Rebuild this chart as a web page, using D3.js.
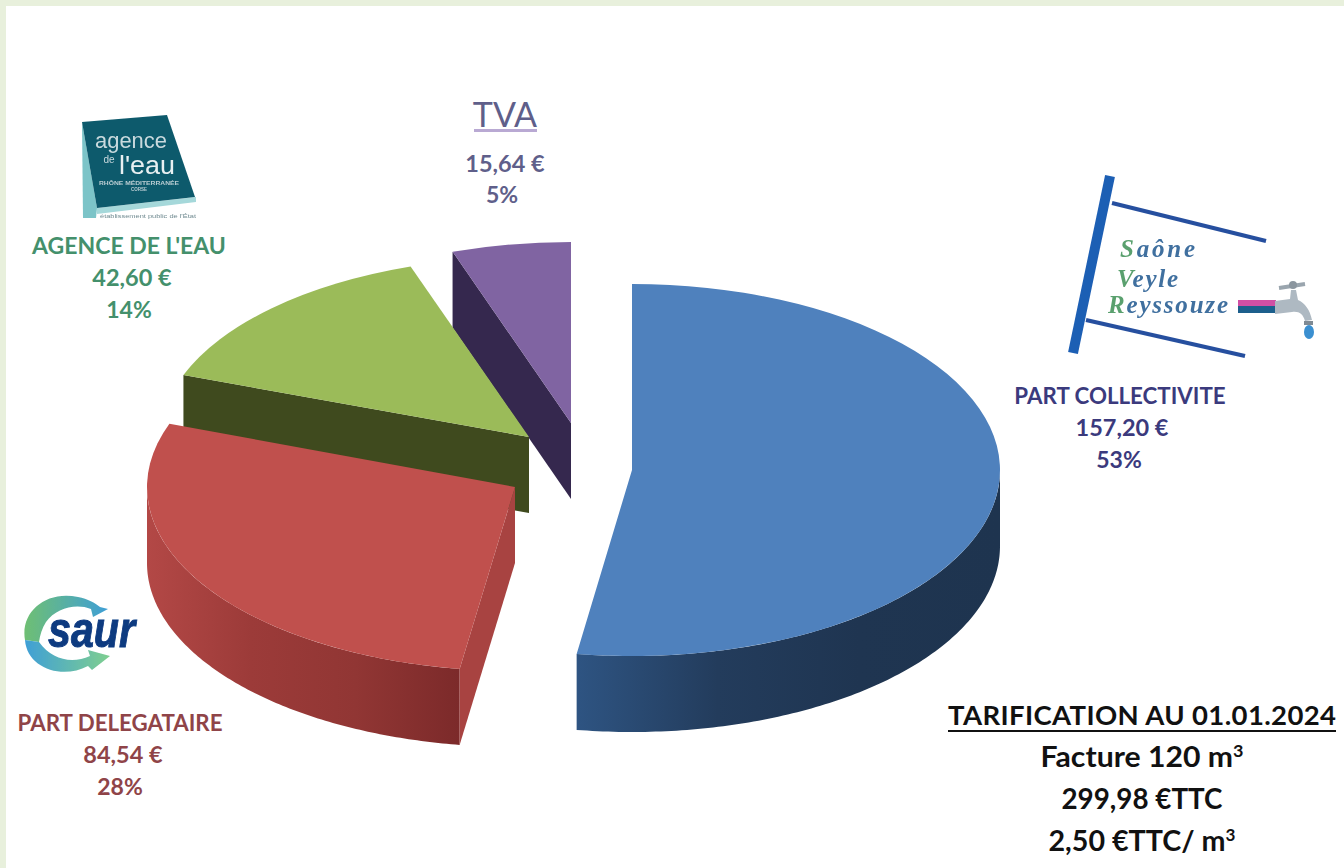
<!DOCTYPE html>
<html lang="fr">
<head>
<meta charset="utf-8">
<title>Tarification au 01.01.2024</title>
<script src="https://cdn.jsdelivr.net/npm/d3@7/dist/d3.min.js"></script>
<style>
  html, body { margin: 0; padding: 0; background: #fff; overflow: hidden; }
  svg { display: block; }
  text { font-family: Lato, "Open Sans", sans-serif; }
</style>
</head>
<body>
<svg id="chart" width="1344" height="868"></svg>
<script>
// Data
const sliceNames = ['PART COLLECTIVITE', 'PART DELEGATAIRE', "AGENCE DE L'EAU", 'TVA'];
const sliceAmounts = [157.20, 84.54, 42.60, 15.64];
const sliceShares = ['53%', '28%', '14%', '5%'];
const summaryLines = ['Facture 120 m³', '299,98 €TTC', '2,50 €TTC/ m³'];
const summaryTitle = 'TARIFICATION AU 01.01.2024';

// Slice look, same order as above
const topColors = ['#4f81bd', '#c0504d', '#9bbb59', '#8064a2'];
const cutColors = ['#2a4a73', '#a84341', '#3f4a1e', '#35284e'];
const rimStops = [
    ['#2e5482', '#233c5c', '#1f3551', '#1e344f'],
    ['#b34846', '#9c3b39', '#913634', '#7c2a2a'],
    ['#3f4a1e', '#3f4a1e', '#3f4a1e', '#3f4a1e'],
    ['#35284e', '#35284e', '#35284e', '#35284e']
];
const labelColors = ['#3b3a7d', '#8f4448', '#44906c', '#5f5f8a'];

// Exploded slice apexes on the page
const apexX = [632, 515, 529, 571];
const apexY = [470, 487, 437, 423];
const rx = 368;
const ry = [186, 184, 180, 181];
const depth = 76;

const svg = d3.select('#chart');
const defs = svg.append('defs');

// soft edge for the pasted logos
defs.append('filter').attr('id', 'soft')
    .append('feGaussianBlur').attr('stdDeviation', 0.45);

// Page frame, only the top and left edges are tinted
svg.append('rect').attr('width', 1344).attr('height', 868).attr('fill', '#fff');
svg.append('rect').attr('width', 1344).attr('height', 6).attr('fill', '#e8f0dc');
svg.append('rect').attr('width', 6).attr('height', 868).attr('fill', '#e8f0dc');

// Pie layout
const pie = d3.pie().sort(null).value(d => d.amount);
const slices = pie(sliceNames.map((name, i) => ({name, amount: sliceAmounts[i], index: i})));
const arc = d3.arc().innerRadius(0).outerRadius(100);

const px = (a, i) => apexX[i] + rx * Math.sin(a);
const py = (a, i) => apexY[i] - ry[i] * Math.cos(a);

const rimArea = i => d3.area()
    .x(a => px(a, i))
    .y0(a => py(a, i))
    .y1(a => py(a, i) + depth);

// Back slices first so the nearer ones cover them
const drawOrder = [3, 2, 1, 0];
drawOrder.forEach(i => {
    const s = slices[i];
    const g = svg.append('g').attr('class', 'slice');

    // outer wall, only the part of the rim facing the viewer
    const from = Math.max(s.startAngle, Math.PI / 2);
    const to = Math.min(s.endAngle, Math.PI * 1.5);
    if (to > from) {
        const angles = d3.range(0, 121).map(k => from + (to - from) * k / 120);
        const gradId = `rim-${i}`;
        const grad = defs.append('linearGradient')
            .attr('id', gradId)
            .attr('gradientUnits', 'userSpaceOnUse')
            .attr('x1', i === 0 ? px(s.endAngle, i) : d3.min(angles, a => px(a, i)))
            .attr('x2', d3.max(angles, a => px(a, i)))
            .attr('y1', 0).attr('y2', 0);
        rimStops[i].forEach((c, k) => {
            grad.append('stop').attr('offset', k / 3).attr('stop-color', c);
        });
        g.append('path')
            .attr('d', rimArea(i)(angles))
            .attr('fill', `url(#${gradId})`);
    }

    // cut wall on the slice start
    const a0 = s.startAngle;
    const cut = [
        [apexX[i], apexY[i]],
        [px(a0, i), py(a0, i)],
        [px(a0, i), py(a0, i) + depth],
        [apexX[i], apexY[i] + depth]
    ];
    g.append('path')
        .attr('d', d3.line()(cut) + 'Z')
        .attr('fill', cutColors[i]);

    // top face
    g.append('path')
        .attr('d', arc(s))
        .attr('transform', `translate(${apexX[i]},${apexY[i]}) scale(${rx / 100},${ry[i] / 100})`)
        .attr('fill', topColors[i]);
});

// Labels
const frLocale = d3.formatLocale({decimal: ',', thousands: ' ', grouping: [3], currency: ['', ' €']});
const euro = frLocale.format('$.2f');

function centered(x, y, str, size, weight, color) {
    return svg.append('text')
        .attr('x', x).attr('y', y)
        .attr('text-anchor', 'middle')
        .attr('font-size', size)
        .attr('font-weight', weight)
        .attr('fill', color)
        .text(str);
}

const labelX = [[1120, 1122, 1119], [120, 123, 120], [129, 132, 129], [505, 505, 502]];
const labelY = [[404, 436, 468], [731, 763, 795], [254, 286, 318], [127, 172, 203]];
sliceNames.forEach((name, i) => {
    const isTva = i === 3;
    const head = centered(labelX[i][0], labelY[i][0], name, isTva ? 34 : 22.3, isTva ? 400 : 700, labelColors[i]);
    if (i === 2) head.attr('font-size', 23);
    centered(labelX[i][1], labelY[i][1], euro(sliceAmounts[i]), 23.5, 700, labelColors[i]);
    centered(labelX[i][2], labelY[i][2], sliceShares[i], 23, 700, labelColors[i]);
});
// TVA underline
svg.append('rect').attr('x', 474).attr('y', 129).attr('width', 63).attr('height', 3).attr('fill', '#b9a9d3');

// Summary block
centered(1142, 725, summaryTitle, 27.5, 700, '#111').attr('textLength', 388);
svg.append('rect').attr('x', 948).attr('y', 730).attr('width', 388).attr('height', 2).attr('fill', '#111');
const summaryY = [767, 809, 851];
const summaryWidth = [203, 161, 187];
summaryLines.forEach((t, i) => {
    const line = centered(1142, summaryY[i], null, 28.5, 700, '#111')
        .attr('textLength', summaryWidth[i])
        .attr('lengthAdjust', 'spacingAndGlyphs');
    const parts = t.split('³');
    line.append('tspan').text(parts[0]);
    if (parts.length > 1) {
        line.append('tspan').attr('dy', -10).attr('font-size', 17).text('3');
    }
});

// Logo: agence de l'eau
const agence = svg.append('g').attr('class', 'logo-agence').attr('filter', 'url(#soft)');
agence.append('path').attr('d', 'M82,122 L83,218 L96,218 L97,208 Z').attr('fill', '#7cc4c8');
agence.append('path').attr('d', 'M97,208 L196,197 L196,202 L97,214 Z').attr('fill', '#a5d8da');
agence.append('path').attr('d', 'M82,122 L167,115 L195,197 L97,208 Z').attr('fill', '#0f5a6c');
function agenceText(x, y, str, size, weight, color, width) {
    const t = agence.append('text')
        .attr('x', x).attr('y', y)
        .attr('text-anchor', 'middle')
        .attr('font-size', size)
        .attr('font-weight', weight)
        .attr('fill', color)
        .style('font-family', '"Liberation Sans", sans-serif')
        .text(str);
    if (width) t.attr('textLength', width).attr('lengthAdjust', 'spacingAndGlyphs');
}
agenceText(131, 148, 'agence', 22, 400, '#c9dade', 72);
agenceText(109, 163, 'de', 10, 400, '#c9dade');
agenceText(147, 174, "l'eau", 25, 400, '#e8f0f2', 56);
agenceText(139, 185, 'RHÔNE MÉDITERRANÉE', 5, 700, '#b8ccd2', 80);
agenceText(139, 191, 'CORSE', 4.5, 700, '#b8ccd2');
agenceText(148, 218, "établissement public de l'État", 6, 400, '#6f8a90', 96);

// Logo: Saone Veyle Reyssouze, the sign and the tap
const sign = svg.append('g').attr('class', 'logo-svr').attr('filter', 'url(#soft)');
sign.append('line').attr('x1', 1110).attr('y1', 176).attr('x2', 1073).attr('y2', 353)
    .attr('stroke', '#1f5fb4').attr('stroke-width', 10);
sign.append('line').attr('x1', 1112).attr('y1', 203).attr('x2', 1266).attr('y2', 241)
    .attr('stroke', '#27509f').attr('stroke-width', 4);
sign.append('line').attr('x1', 1086).attr('y1', 320).attr('x2', 1245).attr('y2', 356)
    .attr('stroke', '#27509f').attr('stroke-width', 4);

const signWords = [['S', 'aône'], ['V', 'eyle'], ['R', 'eyssouze']];
const signX = [1120, 1117, 1108];
const signY = [257, 287, 313];
const signWidth = [75, 61, 120];
signWords.forEach((w, i) => {
    const t = sign.append('text')
        .attr('x', signX[i]).attr('y', signY[i])
        .attr('font-size', 25)
        .attr('font-weight', 700)
        .attr('font-style', 'italic')
        .attr('textLength', signWidth[i])
        .style('font-family', '"Liberation Serif", serif');
    t.append('tspan').attr('fill', '#5aa06e').text(w[0]);
    t.append('tspan').attr('fill', '#3f6f9f').text(w[1]);
});
sign.append('rect').attr('x', 1238).attr('y', 300).attr('width', 38).attr('height', 6).attr('fill', '#d14fa4');
sign.append('rect').attr('x', 1238).attr('y', 306).attr('width', 38).attr('height', 7).attr('fill', '#1f5f8c');
// tap body
sign.append('path')
    .attr('d', 'M1275,301 L1290,299 L1291,290 L1296,290 L1298,300 C1305,303 1310,310 1312,320 L1305,321 C1303,314 1299,311 1292,312 L1275,314 Z')
    .attr('fill', '#aeb9c2');
sign.append('path').attr('d', 'M1279,288 L1305,284').attr('stroke', '#9aa5ae').attr('stroke-width', 4).attr('fill', 'none');
sign.append('circle').attr('cx', 1293).attr('cy', 285).attr('r', 4).attr('fill', '#8b969f');
sign.append('rect').attr('x', 1304).attr('y', 321).attr('width', 9).attr('height', 4).attr('fill', '#7f8a94');
sign.append('ellipse').attr('cx', 1309).attr('cy', 332).attr('rx', 5).attr('ry', 7).attr('fill', '#3a8fd0');

// Logo: saur, two round arrows behind the word
const saur = svg.append('g').attr('class', 'logo-saur').attr('filter', 'url(#soft)');
const saurTop = defs.append('linearGradient').attr('id', 'saur-top').attr('x1', 0).attr('x2', 1);
saurTop.append('stop').attr('offset', 0).attr('stop-color', '#6fbf73');
saurTop.append('stop').attr('offset', 1).attr('stop-color', '#3f9fd6');
const saurBot = defs.append('linearGradient').attr('id', 'saur-bot').attr('x1', 0).attr('x2', 1);
saurBot.append('stop').attr('offset', 0).attr('stop-color', '#3f9fd6');
saurBot.append('stop').attr('offset', 1).attr('stop-color', '#7fcf8f');
saur.append('path')
    .attr('d', 'M25,640 C20,612 46,590 78,597 C88,599 95,603 100,607 L108,609 L93,617 L91,609 C76,603 56,608 46,622 C42,628 40,635 39,642 Z')
    .attr('fill', 'url(#saur-top)');
saur.append('path')
    .attr('d', 'M25,640 C27,668 62,680 88,666 L92,670 L110,656 L88,650 L90,656 C72,664 52,660 39,642 Z')
    .attr('fill', 'url(#saur-bot)');
saur.append('text')
    .attr('x', 48).attr('y', 647)
    .attr('font-size', 50)
    .attr('font-weight', 700)
    .attr('font-style', 'italic')
    .attr('fill', '#0b3a80')
    .attr('stroke', '#0b3a80')
    .attr('stroke-width', 1)
    .attr('textLength', 87)
    .attr('lengthAdjust', 'spacingAndGlyphs')
    .style('font-family', '"Liberation Sans", sans-serif')
    .text('saur');
</script>
</body>
</html>
